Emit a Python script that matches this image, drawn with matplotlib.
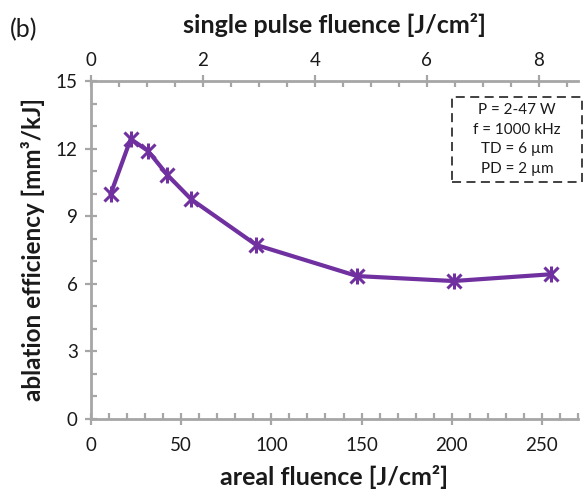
import matplotlib.pyplot as plt
from matplotlib.patches import Rectangle
from matplotlib.ticker import MultipleLocator

plt.rcParams['font.family'] = ['Lato', 'DejaVu Sans']

# data
areal_fluence = [11, 22, 31.5, 42.4, 55.6, 91.7, 147.6, 201, 255]
efficiency = [10.0, 12.42, 11.9, 10.82, 9.74, 7.71, 6.33, 6.11, 6.41]
info_lines = ['P = 2-47 W', 'f = 1000 kHz', 'TD = 6 µm', 'PD = 2 µm']

purple = '#7030A0'
axis_grey = '#A6A6A6'
text_col = '#1a1a1a'

fig = plt.figure(figsize=(5.88, 4.91), dpi=100)
ax = fig.add_axes([91/588, 1 - 418.5/491, (578 - 91)/588, (418.5 - 81)/491])

ax.plot(areal_fluence, efficiency, color=purple, lw=3, zorder=3)
ax.plot(areal_fluence, efficiency, ls='none', marker='x', ms=10, mew=2.2, color=purple, zorder=4)
ax.plot(areal_fluence, efficiency, ls='none', marker='|', ms=11, mew=2.2, color=purple, zorder=4)

ax.set_xlim(0, 270)
ax.set_ylim(0, 15)
ax.xaxis.set_major_locator(MultipleLocator(50))
ax.xaxis.set_minor_locator(MultipleLocator(10))
ax.yaxis.set_major_locator(MultipleLocator(3))
ax.yaxis.set_minor_locator(MultipleLocator(1))

for s in ['right', 'top']:
    ax.spines[s].set_visible(False)
for s in ['left', 'bottom']:
    ax.spines[s].set_color(axis_grey)
    ax.spines[s].set_linewidth(2)
ax.tick_params(which='major', direction='inout', length=9, width=1.6, color=axis_grey,
               labelsize=13.5, labelcolor=text_col, pad=5)
ax.tick_params(axis='x', which='major', pad=9)
ax.tick_params(which='minor', direction='in', length=4, width=1.6, color=axis_grey)

ax.set_xlabel('areal fluence [J/cm²]', fontsize=18, fontweight='bold', color=text_col, labelpad=8)
ax.set_ylabel('ablation efficiency [mm³/kJ]', fontsize=17.5, fontweight='bold', color=text_col, labelpad=8)

# secondary x axis: single pulse fluence
ax2 = ax.twiny()
ax2.set_xlim(0, 8.7)
ax2.xaxis.set_major_locator(MultipleLocator(2))
ax2.xaxis.set_minor_locator(MultipleLocator(0.5))
for s in ['left', 'right', 'bottom']:
    ax2.spines[s].set_visible(False)
ax2.spines['top'].set_color(axis_grey)
ax2.spines['top'].set_linewidth(2)
ax2.tick_params(which='major', direction='inout', length=9, width=1.6, color=axis_grey,
                labelsize=13.5, labelcolor=text_col, pad=4.5)
ax2.tick_params(which='minor', direction='in', length=4, width=1.6, color=axis_grey)
ax2.set_xlabel('single pulse fluence [J/cm²]', fontsize=18, fontweight='bold', color=text_col, labelpad=13)

# parameter box
box = Rectangle((0.741, 0.70), 0.267, 0.252, transform=ax.transAxes, fc='white', ec='#333333',
                lw=1.3, ls=(0, (5, 3)), clip_on=False, zorder=5)
ax.add_patch(box)
ax.text(0.875, 0.826, '\n'.join(info_lines), transform=ax.transAxes, ha='center', va='center',
        fontsize=11, color=text_col, linespacing=1.5, zorder=6)

fig.text(10/588, 1 - 30/491, '(b)', fontsize=18, color=text_col, va='center', ha='left')

plt.savefig('out.png', dpi=100)
